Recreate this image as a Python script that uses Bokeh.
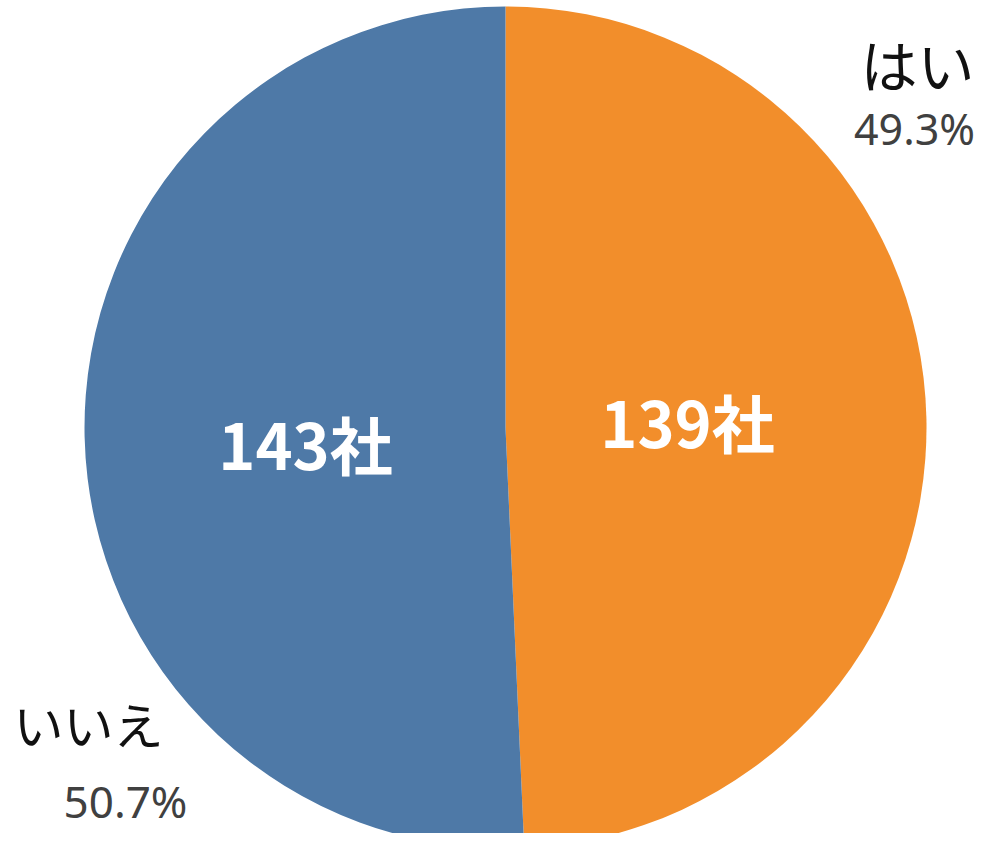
import math
from bokeh.plotting import figure
from bokeh.models import Range1d, ColumnDataSource
from bokeh.core.properties import value
from bokeh.embed import file_html
from bokeh.resources import INLINE

# ---- data ----
labels = ["はい", "いいえ"]
counts = [139, 143]
count_labels = ["139社", "143社"]
pct_labels = ["49.3%", "50.7%"]
colors = ["#F28E2B", "#4E79A7"]

W, H = 983, 833
p = figure(width=W, height=H, output_backend="svg", toolbar_location=None,
           x_range=Range1d(0, W), y_range=Range1d(0, H), min_border=0)
p.axis.visible = False
p.grid.visible = False
p.outline_line_color = None
p.background_fill_color = "white"
p.border_fill_color = "white"

def fx(px):
    return px

def fy(py):
    return H - py

cx, cy, r = fx(505), fy(427), 421
total = sum(counts)
start = math.pi / 2
starts, ends = [], []
for c in counts:
    a = 2 * math.pi * c / total
    starts.append(start)
    ends.append(start - a)
    start -= a

src = ColumnDataSource(dict(start=starts, end=ends, color=colors))
p.wedge(x=cx, y=cy, radius=r, start_angle="start", end_angle="end",
        direction="clock", fill_color="color", line_color=None, source=src)

# label layout (image pixel positions)
name_pos = [(917, 62), (88, 722)]
name_sizes = ["57px", "50px"]
pct_pos = [(914, 128), (125, 800)]
pct_sizes = ["43px", "44px"]
inner_pos = [(687, 420), (305, 442)]

p.text(x=[fx(a) for a, b in name_pos], y=[fy(b) for a, b in name_pos], text=labels,
       text_font=value("Noto Sans CJK JP"), text_font_size=name_sizes, text_color="#111111",
       text_align="center", text_baseline="middle")
p.text(x=[fx(a) for a, b in pct_pos], y=[fy(b) for a, b in pct_pos], text=pct_labels,
       text_font=value("Noto Sans"), text_font_size=pct_sizes, text_color="#404040",
       text_align="center", text_baseline="middle")
p.text(x=[fx(a) for a, b in inner_pos], y=[fy(b) for a, b in inner_pos], text=count_labels,
       text_font=value("Noto Sans CJK JP"), text_font_size="63px", text_font_style="bold",
       text_color="white", text_align="center", text_baseline="middle")

open("out.html", "w").write(file_html(p, INLINE))
